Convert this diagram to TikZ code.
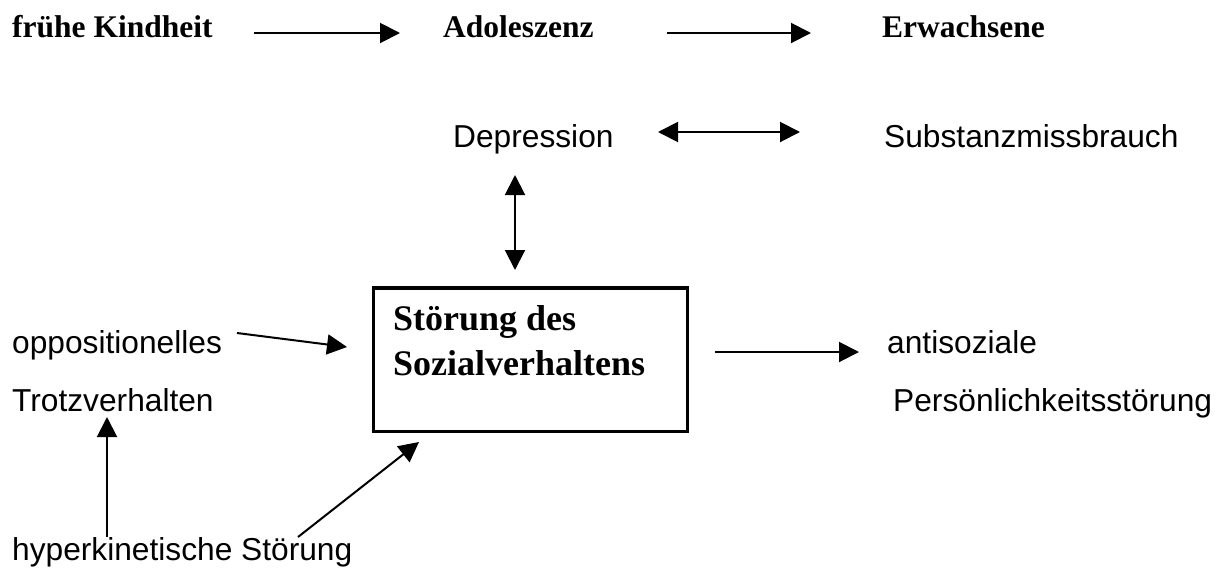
\documentclass[tikz,border=0pt]{standalone}
\usepackage{fontspec}
\setmainfont{Liberation Serif}
\setsansfont{Liberation Sans}
\usetikzlibrary{arrows.meta}
\begin{document}
\begin{tikzpicture}[x=1pt,y=-1pt,
  stage/.style={font=\bfseries\fontsize{31.5}{36}\selectfont, anchor=base west, inner sep=0pt},
  lbl/.style={font=\sffamily\fontsize{31.7}{38}\selectfont, anchor=base west, inner sep=0pt},
  arr/.style={line width=2pt, -{Triangle[length=20pt,width=20pt]}},
  darr/.style={line width=2pt, {Triangle[length=20pt,width=20pt]}-{Triangle[length=20pt,width=20pt]}},
  mainbox/.style={draw, line width=3.5pt, anchor=north west, inner sep=0pt,
    minimum width=314pt, minimum height=143.5pt},
  boxtext/.style={font=\bfseries\fontsize{36}{45}\selectfont, anchor=base west,
    inner sep=0pt, align=left},
]
\useasboundingbox (0,0) rectangle (1229,571);

% developmental stages
\node[stage] (kind) at (12,37)  {frühe Kindheit};
\node[stage] (adol) at (443,37) {Adoleszenz};
\node[stage] (erw)  at (882,37) {Erwachsene};

% disorders
\node[lbl] (dep)   at (453,147) {Depression};
\node[lbl] (subst) at (884,147) {Substanzmissbrauch};
\node[lbl] (opp)   at (12,353)  {oppositionelles};
\node[lbl] (trotz) at (12,411)  {Trotzverhalten};
\node[lbl] (hyper) at (12,560)  {hyperkinetische Störung};
\node[lbl] (anti)  at (887,353) {antisoziale};
\node[lbl] (pers)  at (893,411) {Persönlichkeitsstörung};

% central disorder (the two-line label sits on the baseline of its last line)
\node[mainbox] (box) at (371.5,286) {};
\node[boxtext] (boxlbl) at (393,375) {Störung des\\Sozialverhaltens};

% arrow end points
\coordinate (k-out)   at (254,33);
\coordinate (a-in)    at (400,33);
\coordinate (a-out)   at (667,33);
\coordinate (e-in)    at (811,33);
\coordinate (dep-r)   at (658,132);
\coordinate (subst-l) at (800,132);
\coordinate (dep-b)   at (515,175);
\coordinate (box-t)   at (515,270);
\coordinate (opp-out) at (237,333);
\coordinate (box-l)   at (347,347);
\coordinate (box-r)   at (715,352);
\coordinate (anti-in) at (859,352);
\coordinate (hyp-up)  at (107,537);
\coordinate (trotz-b) at (107,417);
\coordinate (hyp-r)   at (298,537);
\coordinate (box-bl)  at (419,442);

% connectors
\draw[arr]  (k-out) -- (a-in);
\draw[arr]  (a-out) -- (e-in);
\draw[darr] (dep-r) -- (subst-l);
\draw[darr] (dep-b) -- (box-t);
\draw[arr]  (opp-out) -- (box-l);
\draw[arr]  (box-r) -- (anti-in);
\draw[arr]  (hyp-up) -- (trotz-b);
\draw[arr]  (hyp-r) -- (box-bl);
\end{tikzpicture}
\end{document}
